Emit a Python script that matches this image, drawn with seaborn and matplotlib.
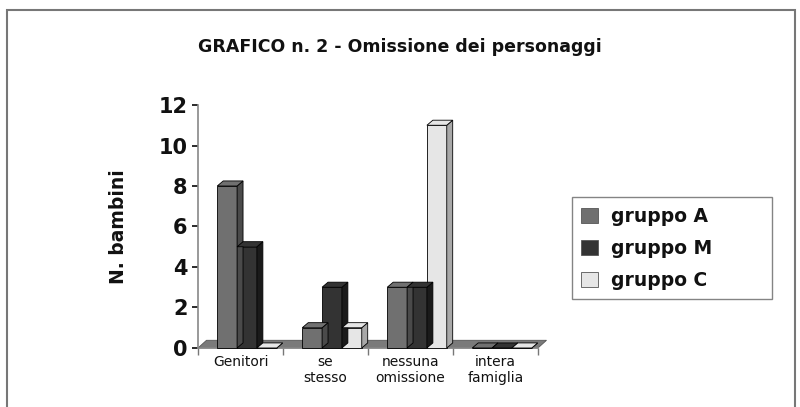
import matplotlib
matplotlib.use("Agg")
import matplotlib.pyplot as plt
import matplotlib.transforms as mtransforms
import seaborn as sns
import pandas as pd
from matplotlib.patches import Polygon, Rectangle, Patch

categories = ["Genitori", "se\nstesso", "nessuna\nomissione", "intera\nfamiglia"]
groups = ["gruppo A", "gruppo M", "gruppo C"]
gruppo_A = [8, 1, 3, 0]
gruppo_M = [5, 3, 3, 0]
gruppo_C = [0, 1, 11, 0]
y_ticks = [0, 2, 4, 6, 8, 10, 12]

colors = ["#707070", "#333333", "#e6e6e6"]
side_colors = ["#4a4a4a", "#1a1a1a", "#a8a8a8"]

rows = []
for g, vals in zip(groups, [gruppo_A, gruppo_M, gruppo_C]):
    for c, v in zip(categories, vals):
        rows.append({"cat": c, "grp": g, "val": v})
df = pd.DataFrame(rows)

sns.set_theme(style="white")
plt.rcParams['font.family'] = ['DejaVu Sans']

fig = plt.figure(figsize=(8, 4.07), dpi=100)
ax = fig.add_axes([0.2475, 0.145, 0.425, 0.597])

sns.barplot(data=df, x="cat", y="val", hue="grp", palette=colors, width=0.7,
            edgecolor="black", linewidth=0.6, ax=ax, legend=False, zorder=3)

ax.set_ylim(0, 12)
ax.set_xlim(-0.5, 3.5)
ax.set_yticks(y_ticks)
ax.set_yticklabels([str(t) for t in y_ticks], fontsize=15, fontweight="bold", color="#111111")
ax.tick_params(axis="x", labelsize=10, colors="#111111", length=4, direction="out", pad=5)
ax.tick_params(axis="y", length=4, direction="out", colors="#111111", left=True)
ax.set_xticks([-0.5, 0.5, 1.5, 2.5, 3.5], minor=True)
ax.set_xticks([0, 1, 2, 3])
ax.tick_params(axis="x", which="major", length=0, bottom=False)
ax.tick_params(axis="x", which="minor", length=5, bottom=True, color="#777777")
ax.set_xlabel("")
ax.set_ylabel("N. bambini", fontsize=13.5, fontweight="bold", labelpad=22, color="#111111")
for s in ["top", "right"]:
    ax.spines[s].set_visible(False)
for s in ["left", "bottom"]:
    ax.spines[s].set_color("#888888")
    ax.spines[s].set_linewidth(1.2)

# 3D look: shift bars slightly right and add depth faces derived from the bar patches
shift = mtransforms.offset_copy(ax.transData, fig=fig, x=6.5, y=0, units="dots")
dx = 0.07
dy = 0.25
fdx = 0.1
fdy = 0.38
floor = Polygon([(-0.5, 0), (3.5, 0), (3.5 + fdx, fdy), (-0.5 + fdx, fdy)], closed=True,
                facecolor="#7a7a7a", edgecolor="#555555", linewidth=0.6, zorder=2, clip_on=False)

bars = list(ax.patches)
ax.add_patch(floor)
for i, b in enumerate(bars):
    b.set_transform(shift)
    b.set_clip_on(False)
    gi = i // len(categories)
    x0 = b.get_x()
    w = b.get_width()
    h = b.get_height()
    x1 = x0 + w
    side = Polygon([(x1, 0), (x1 + dx, dy), (x1 + dx, h + dy), (x1, h)], closed=True,
                   facecolor=side_colors[gi], edgecolor="black", linewidth=0.6, zorder=3,
                   clip_on=False, transform=shift)
    top = Polygon([(x0, h), (x0 + dx, h + dy), (x1 + dx, h + dy), (x1, h)], closed=True,
                  facecolor=colors[gi], edgecolor="black", linewidth=0.6, zorder=3,
                  clip_on=False, transform=shift)
    ax.add_patch(side)
    ax.add_patch(top)

handles = [Patch(facecolor=c, edgecolor="#555555", linewidth=0.6) for c in colors]
leg = fig.legend(handles, groups, loc="upper left", bbox_to_anchor=(0.715, 0.515, 0.25, 0.0),
                 mode="expand", frameon=True, fontsize=13.5, handlelength=0.9, handleheight=0.9,
                 labelspacing=0.7, borderpad=0.5, handletextpad=0.7, fancybox=False,
                 borderaxespad=0)
leg.get_frame().set_edgecolor("#666666")
leg.get_frame().set_linewidth(1.0)
for t in leg.get_texts():
    t.set_fontweight("bold")
    t.set_color("#111111")

fig.text(0.5, 0.885, "GRAFICO n. 2 - Omissione dei personaggi", ha="center", va="center",
         fontsize=12.5, fontweight="bold", color="#111111")

fig.patches.append(Rectangle((0.009, -0.02), 0.985, 0.995, transform=fig.transFigure,
                             fill=False, edgecolor="#777777", linewidth=1.5))

fig.savefig("out.png", dpi=100)
